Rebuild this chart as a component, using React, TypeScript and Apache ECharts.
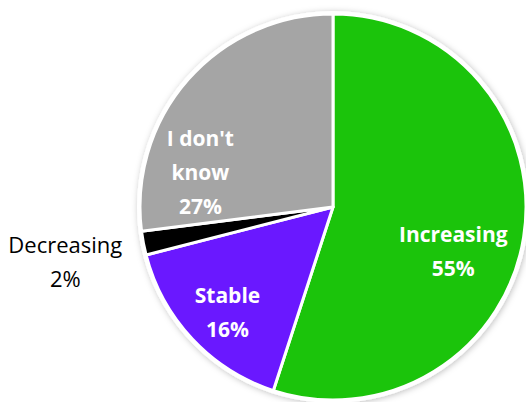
import React, { useEffect, useRef } from "react";
import * as echarts from "echarts";

const categories = ["Increasing", "Stable", "Decreasing", "I don't\nknow"];
const values = [55, 16, 2, 27];
const colors = ["#1BC40B", "#6A18FF", "#000000", "#A5A5A5"];
const labelOffsets: number[][] = [[22, 28], [-33, 37], [-170, 35], [-58, 31]];
const labelColors = ["#FFFFFF", "#FFFFFF", "#000000", "#FFFFFF"];
const labelWeights = ["bold", "bold", "normal", "bold"];
const labelSizes = [21, 21, 22, 21];

export default function App() {
  const ref = useRef<HTMLDivElement>(null);
  useEffect(() => {
    const chart = echarts.init(ref.current!, null, { renderer: "svg" });
    chart.setOption({
      animation: false,
      backgroundColor: "#FFFFFF",
      series: [
        {
          type: "pie",
          silent: true,
          center: [333, 207],
          radius: [0, 196],
          startAngle: 90,
          clockwise: true,
          label: { show: false },
          labelLine: { show: false },
          itemStyle: {
            color: "#FFFFFF",
            shadowBlur: 6,
            shadowColor: "rgba(0,0,0,0.25)",
            shadowOffsetX: 1,
            shadowOffsetY: 1,
          },
          data: [{ value: 1, name: "" }],
          z: 1,
        },
        {
          type: "pie",
          center: [333, 207],
          radius: [0, 193],
          startAngle: 90,
          clockwise: true,
          avoidLabelOverlap: false,
          itemStyle: { borderColor: "#FFFFFF", borderWidth: 3 },
          labelLine: { show: false },
          z: 2,
          data: categories.map((c, i) => ({
            name: c,
            value: values[i],
            itemStyle: { color: colors[i] },
            label: {
              show: true,
              position: "inside",
              offset: labelOffsets[i],
              formatter: "{b}\n{c}%",
              color: labelColors[i],
              fontWeight: labelWeights[i],
              fontFamily: "Open Sans",
              fontSize: labelSizes[i],
              lineHeight: 34,
              align: "center",
            },
          })),
        },
      ],
    });
    return () => chart.dispose();
  }, []);
  return (
    <div
      ref={ref}
      style={{ position: "fixed", left: 0, top: 0, width: 526, height: 402 }}
    />
  );
}
